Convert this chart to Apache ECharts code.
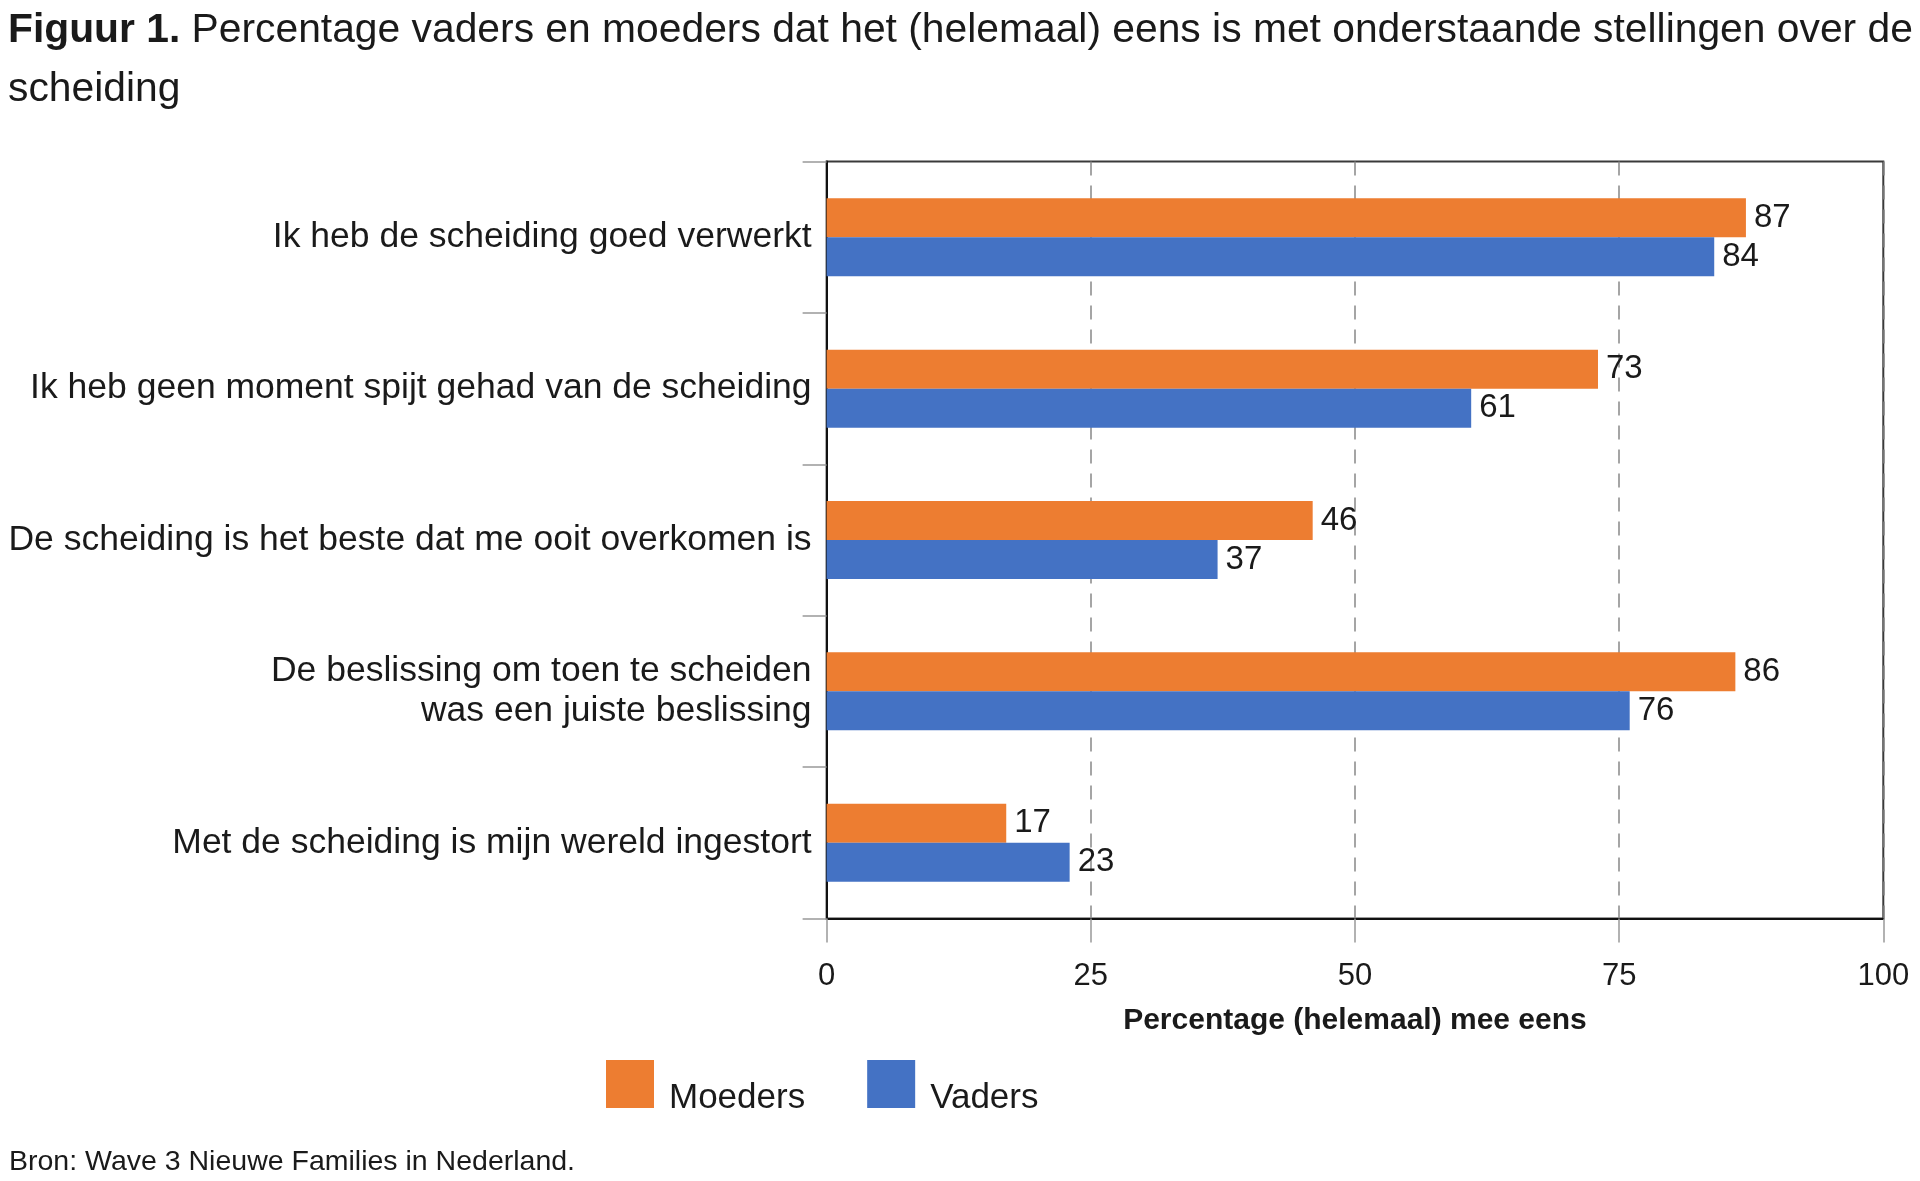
<!DOCTYPE html>
<html>
<head>
<meta charset="utf-8">
<script src="https://cdn.jsdelivr.net/npm/echarts@6/dist/echarts.min.js"></script>
<style>html,body{margin:0;padding:0;background:#fff;}#c{width:1920px;height:1181px;}</style>
</head>
<body>
<div id="c"></div>
<script>
var categories = [
  'Ik heb de scheiding goed verwerkt',
  'Ik heb geen moment spijt gehad van de scheiding',
  'De scheiding is het beste dat me ooit overkomen is',
  'De beslissing om toen te scheiden\nwas een juiste beslissing',
  'Met de scheiding is mijn wereld ingestort'
];
var moeders = [87, 73, 46, 86, 17];
var vaders = [84, 61, 37, 76, 23];
var xTicks = [0, 25, 50, 75, 100];

var FONT = '"Liberation Sans", Arial, sans-serif';
var chart = echarts.init(document.getElementById('c'), null, {renderer: 'canvas'});
chart.setOption({
  backgroundColor: '#fff',
  animation: false,
  textStyle: {fontFamily: FONT, color: '#1a1a1a'},
  title: {
    left: 8, top: 1, padding: 0,
    text: '{b|Figuur 1.} {r|Percentage vaders en moeders dat het (helemaal) eens is met onderstaande stellingen over de}\n{r|scheiding}',
    textStyle: {
      fontFamily: FONT, fontSize: 40.8, fontWeight: 'normal', lineHeight: 59, color: '#1a1a1a',
      rich: {
        b: {fontFamily: FONT, fontSize: 40.8, fontWeight: 'bold', lineHeight: 59, color: '#1a1a1a'},
        r: {fontFamily: FONT, fontSize: 40.8, fontWeight: 'normal', lineHeight: 59, color: '#1a1a1a'}
      }
    }
  },
  legend: {
    left: 606, top: 1060, padding: 0,
    itemWidth: 48, itemHeight: 48, itemGap: 62,
    icon: 'rect',
    data: ['Moeders', 'Vaders'],
    formatter: function (name) { return '{t|' + name + '}'; },
    textStyle: {
      fontFamily: FONT, fontSize: 35, color: '#1a1a1a',
      rich: {t: {fontFamily: FONT, fontSize: 35, color: '#1a1a1a', padding: [28, 0, 0, 10]}}
    }
  },
  grid: {
    left: 826.6, right: 36.7, top: 161.6, bottom: 262.6,
    show: true, borderColor: '#3a3a3a', borderWidth: 2, backgroundColor: 'transparent'
  },
  xAxis: {
    type: 'value', min: 0, max: 100, interval: 25,
    name: 'Percentage (helemaal) mee eens',
    nameLocation: 'middle', nameGap: 87,
    nameTextStyle: {fontFamily: FONT, fontSize: 30, fontWeight: 'bold', color: '#1a1a1a'},
    axisLine: {show: true, lineStyle: {color: '#111', width: 2}},
    axisTick: {show: true, length: 24, lineStyle: {color: '#999', width: 1.5}},
    axisLabel: {fontFamily: FONT, fontSize: 31, color: '#1a1a1a', margin: 43,
      formatter: function (v) { return xTicks.indexOf(v) >= 0 ? String(v) : ''; }},
    splitLine: {show: true, lineStyle: {color: '#888', type: [14, 10], width: 1.5}}
  },
  yAxis: {
    type: 'category', inverse: true, data: categories,
    axisLine: {show: true, lineStyle: {color: '#111', width: 2}},
    axisTick: {show: true, length: 24, lineStyle: {color: '#999', width: 1.5}},
    axisLabel: {fontFamily: FONT, fontSize: 35.5, color: '#1a1a1a', margin: 15, lineHeight: 40, align: 'right'},
    splitLine: {show: false}
  },
  series: [
    {
      name: 'Moeders', type: 'bar', data: moeders, barWidth: 39, barGap: '0%',
      itemStyle: {color: '#ED7D31'},
      label: {show: true, position: 'right', distance: 8, fontFamily: FONT, fontSize: 33, color: '#1a1a1a'}
    },
    {
      name: 'Vaders', type: 'bar', data: vaders, barWidth: 39, barGap: '0%',
      itemStyle: {color: '#4472C4'},
      label: {show: true, position: 'right', distance: 8, fontFamily: FONT, fontSize: 33, color: '#1a1a1a'}
    }
  ],
  graphic: [
    {type: 'text', left: 9, top: 1148, style: {text: 'Bron: Wave 3 Nieuwe Families in Nederland.', fontFamily: FONT, fontSize: 28.5, fill: '#1a1a1a'}}
  ]
});
</script>
</body>
</html>
